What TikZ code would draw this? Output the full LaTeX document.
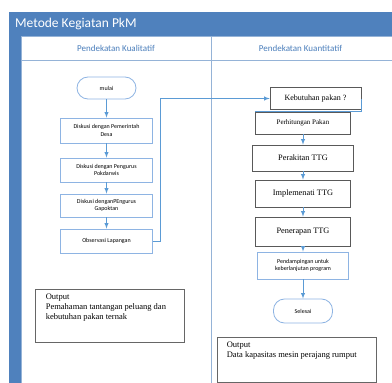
\documentclass[tikz,border=0pt]{standalone}
\usepackage{fontspec}
\setmainfont{Liberation Serif}
\newfontfamily\calibri{Carlito}
\definecolor{pkmblue}{HTML}{4F81BD}
\definecolor{lanecol}{HTML}{95B3D7}
\definecolor{boxblue}{HTML}{8EB4E3}
\definecolor{arrowblue}{HTML}{5B9BD5}
\definecolor{headblue}{HTML}{4A7EBB}
\tikzset{
	sbox/.style={draw=boxblue, line width=0.8pt, fill=white, align=center, inner sep=1pt,
		font=\calibri\fontsize{6}{7.5}\selectfont},
	term/.style={sbox, rounded corners=11pt},
	tbox/.style={draw=black!65, line width=0.7pt, fill=white, align=center, inner sep=1pt,
		font=\fontsize{8.3}{9.5}\selectfont},
	outbox/.style={draw=black!60, line width=0.7pt, fill=white, inner sep=0pt},
	outtext/.style={anchor=north west, align=left, inner sep=0pt,
		font=\fontsize{8.5}{10}\selectfont},
	flow/.style={draw=arrowblue, line width=0.9pt, -latex},
}

\begin{document}
\begin{tikzpicture}[x=1pt, y=-1pt]
		%%%%% START %%%%%
		\useasboundingbox (0, 0) rectangle (392, 383);
		\fill[white] (0, 0) rectangle (392, 383);
		
		\fill[pkmblue] (9, 12) rectangle (393, 36);
		\fill[pkmblue] (9, 36) rectangle (21, 384);
		\draw[lanecol, line width=0.6pt] (21, 36) rectangle (393, 384);
		\draw[lanecol, line width=0.6pt] (21, 60) -- (393, 60);
		\draw[lanecol, line width=0.6pt] (211, 36) -- (211, 384);
		
		\node[anchor=west, text=white, inner sep=0pt, font=\calibri\fontsize{13.5}{15}\selectfont] (title) at (15, 24) {Metode Kegiatan PkM};
		\node[text=headblue, font=\calibri\fontsize{9}{11}\selectfont] (laneKual) at (116, 48) {Pendekatan Kualitatif};
		\node[text=headblue, font=\calibri\fontsize{9}{11}\selectfont] (laneKuan) at (300.5, 48) {Pendekatan Kuantitatif};
		
		% kualitatif
		\node[term, minimum width=59pt, minimum height=22pt] (mulai) at (106.5, 88) {mulai};
		\node[sbox, minimum width=92pt, minimum height=25pt] (diskPemdes) at (106.5, 130.5) {Diskusi dengan Pemerintah\\Desa};
		\node[sbox, minimum width=92pt, minimum height=24pt] (diskPokdarwis) at (106.5, 170) {Diskusi dengan Pengurus\\Pokdarwis};
		\node[sbox, minimum width=92pt, minimum height=23pt] (diskGapoktan) at (106.5, 205.5) {Diskusi denganPEngurus\\Gapoktan};
		\node[sbox, minimum width=92pt, minimum height=24pt] (observasi) at (106.5, 241) {Observasi Lapangan};
		
		\draw[flow] (mulai) -- (diskPemdes);
		\draw[flow] (diskPemdes) -- (diskPokdarwis);
		\draw[flow] (diskPokdarwis) -- (diskGapoktan);
		\draw[flow] (diskGapoktan) -- (observasi);
		
		% kuantitatif
		\node[tbox, minimum width=91pt, minimum height=22pt, font=\fontsize{8}{9.5}\selectfont] (kebutuhan) at (315.5, 98.5) {Kebutuhan pakan ?};
		\node[tbox, minimum width=95pt, minimum height=22pt, font=\fontsize{7}{8.5}\selectfont] (perhitungan) at (303, 123) {Perhitungan Pakan};
		\node[tbox, minimum width=101pt, minimum height=26pt] (perakitan) at (303, 158) {Perakitan TTG};
		\node[tbox, minimum width=95pt, minimum height=27pt] (implementasi) at (303, 193.5) {Implemenati TTG};
		\node[tbox, minimum width=95pt, minimum height=29pt] (penerapan) at (303, 231.5) {Penerapan TTG};
		\node[sbox, minimum width=91pt, minimum height=27pt] (pendampingan) at (303, 265.5) {Pendampingan untuk\\keberlanjutan program};
		\node[term, minimum width=59pt, minimum height=24pt] (selesai) at (303, 311) {Selesai};
		
		\draw[flow] (observasi.east) -- ++(8, 0) |- (kebutuhan.west);
		\draw[draw=arrowblue, line width=0.8pt] (kebutuhan.east) |- (perhitungan.north west);
		\draw[flow] (perhitungan) -- (perakitan);
		\draw[flow] (perakitan) -- (implementasi);
		\draw[flow] (implementasi) -- (penerapan);
		\draw[flow] (penerapan) -- (pendampingan);
		\draw[flow] (pendampingan) -- (selesai);
		
		% output
		\node[outbox, minimum width=149pt, minimum height=53pt] (outKual) at (109.5, 315.5) {};
		\node[outtext, xshift=11pt, yshift=-5pt] (outKualText) at (outKual.north west) {Output\\Pemahaman tantangan peluang dan\\kebutuhan pakan ternak};
		\node[outbox, minimum width=159pt, minimum height=45pt] (outKuan) at (296.5, 359.5) {};
		\node[outtext, xshift=10pt, yshift=-5pt] (outKuanText) at (outKuan.north west) {Output\\Data kapasitas mesin perajang rumput};
		%%%%% END %%%%%
	\end{tikzpicture}
\end{document}
